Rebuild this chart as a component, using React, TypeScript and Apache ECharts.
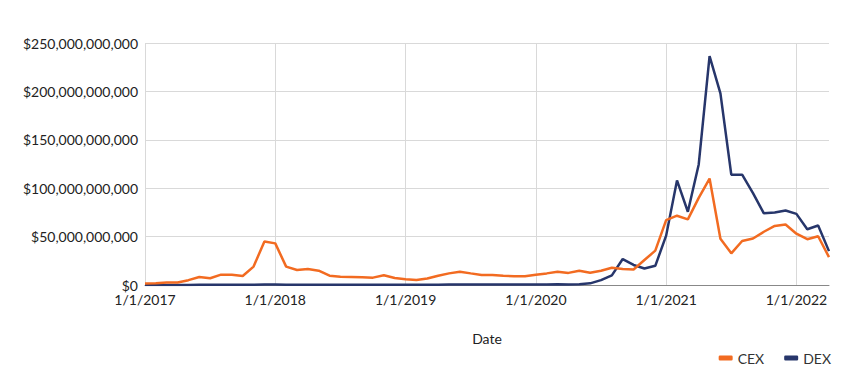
import React, { useEffect, useRef } from "react";
import * as echarts from "echarts";

const months: string[] = [
  "1/1/2017", "2/1/2017", "3/1/2017", "4/1/2017", "5/1/2017", "6/1/2017", "7/1/2017", "8/1/2017", "9/1/2017", "10/1/2017", "11/1/2017", "12/1/2017",
  "1/1/2018", "2/1/2018", "3/1/2018", "4/1/2018", "5/1/2018", "6/1/2018", "7/1/2018", "8/1/2018", "9/1/2018", "10/1/2018", "11/1/2018", "12/1/2018",
  "1/1/2019", "2/1/2019", "3/1/2019", "4/1/2019", "5/1/2019", "6/1/2019", "7/1/2019", "8/1/2019", "9/1/2019", "10/1/2019", "11/1/2019", "12/1/2019",
  "1/1/2020", "2/1/2020", "3/1/2020", "4/1/2020", "5/1/2020", "6/1/2020", "7/1/2020", "8/1/2020", "9/1/2020", "10/1/2020", "11/1/2020", "12/1/2020",
  "1/1/2021", "2/1/2021", "3/1/2021", "4/1/2021", "5/1/2021", "6/1/2021", "7/1/2021", "8/1/2021", "9/1/2021", "10/1/2021", "11/1/2021", "12/1/2021",
  "1/1/2022", "2/1/2022", "3/1/2022", "4/1/2022",
];

// values in billions of USD
const cexBillions: number[] = [
  1.5, 1.7, 2.5, 2.6, 5, 8.3, 7, 10.7, 10.7, 9.3, 19, 45,
  43, 19, 15.5, 16.5, 14.8, 9.6, 8.6, 8.3, 8, 7.6, 10, 7.2,
  5.9, 5.2, 6.7, 9.6, 12, 13.8, 12, 10.3, 10.3, 9.6, 9, 9,
  10.7, 12, 13.8, 12.5, 14.8, 12.7, 14.8, 17.9, 16.5, 16, 25.8, 35.5,
  67, 71.6, 67.8, 90, 110, 47.8, 32.7, 45.5, 48, 55, 61, 62.5,
  53, 47.3, 50.4, 28.8,
];

const dexBillions: number[] = [
  0.05, 0.05, 0.05, 0.08, 0.1, 0.15, 0.2, 0.2, 0.2, 0.25, 0.3, 0.5,
  0.4, 0.3, 0.3, 0.3, 0.3, 0.25, 0.2, 0.2, 0.2, 0.2, 0.2, 0.15,
  0.15, 0.2, 0.3, 0.3, 0.4, 0.5, 0.5, 0.4, 0.4, 0.4, 0.4, 0.4,
  0.4, 0.6, 0.8, 0.6, 0.8, 1.7, 5, 10, 26.8, 20.7, 17, 19.8,
  51, 108, 75.7, 124.5, 236.5, 198, 114, 114, 95, 74, 75, 77,
  73.5, 57.6, 61.5, 35,
];

const seriesNames: string[] = ["CEX", "DEX"];
const yTicks = { min: 0, max: 250e9, interval: 50e9 };

const FONT = "Lato";

function fmtDollar(v: number): string {
  const s = Math.round(v).toString().replace(/\B(?=(\d{3})+(?!\d))/g, ",");
  return "$" + s;
}

export default function App() {
  const ref = useRef<HTMLDivElement>(null);
  useEffect(() => {
    if (!ref.current) return;
    const chart = echarts.init(ref.current, undefined, { renderer: "svg" });
    chart.setOption({
      animation: false,
      textStyle: { fontFamily: FONT },
      grid: { left: 145, right: 21, top: 43, bottom: 93, containLabel: false },
      legend: {
        right: 14,
        top: 346,
        itemWidth: 14,
        itemHeight: 5,
        itemGap: 20,
        icon: "roundRect",
        textStyle: { fontFamily: FONT, fontSize: 14, color: "#333" },
        data: seriesNames,
      },
      xAxis: {
        type: "category",
        data: months,
        boundaryGap: false,
        name: "Date",
        nameLocation: "middle",
        nameGap: 46,
        nameTextStyle: { fontFamily: FONT, fontSize: 14, color: "#222" },
        axisLine: { show: true, lineStyle: { color: "#888", width: 1 } },
        axisTick: { show: false },
        axisLabel: {
          interval: 11,
          margin: 7,
          fontFamily: FONT,
          fontSize: 14,
          color: "#222",
        },
        splitLine: { show: true, interval: 11, lineStyle: { color: "#d9d9d9", width: 1 } },
      },
      yAxis: {
        type: "value",
        min: yTicks.min,
        max: yTicks.max,
        interval: yTicks.interval,
        axisLine: { show: false },
        axisTick: { show: false },
        axisLabel: {
          margin: 7,
          fontFamily: FONT,
          fontSize: 14,
          color: "#222",
          formatter: (v: number) => fmtDollar(v),
        },
        splitLine: { show: true, lineStyle: { color: "#d9d9d9", width: 1 } },
      },
      series: [
        {
          name: seriesNames[0],
          type: "line",
          data: cexBillions.map((v) => v * 1e9),
          symbol: "none",
          lineStyle: { color: "#f26b21", width: 2.5 },
          itemStyle: { color: "#f26b21" },
          z: 3,
        },
        {
          name: seriesNames[1],
          type: "line",
          data: dexBillions.map((v) => v * 1e9),
          symbol: "none",
          lineStyle: { color: "#27366b", width: 2.5 },
          itemStyle: { color: "#27366b" },
          z: 2,
        },
      ],
    });
    return () => chart.dispose();
  }, []);
  return <div ref={ref} style={{ width: 850, height: 378, position: "absolute", left: 0, top: 0 }} />;
}
